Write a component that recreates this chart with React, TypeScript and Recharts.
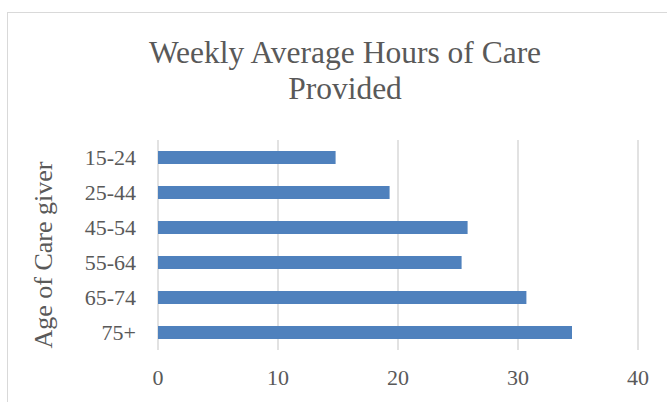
import React from 'react';
import { BarChart, Bar, XAxis, YAxis, CartesianGrid } from 'recharts';

const ageGroups = ['15-24', '25-44', '45-54', '55-64', '65-74', '75+'];
const weeklyHours = [14.8, 19.3, 25.8, 25.3, 30.7, 34.5];
const xTicks = [0, 10, 20, 30, 40];

const data = ageGroups.map((age, i) => ({ age, hours: weeklyHours[i] }));

const FONT = '"Liberation Serif", "Times New Roman", serif';
const TEXT = '#595959';

const AxisTitle = (props: any) => {
  const vb = props.viewBox || {};
  const cx = (vb.x || 0) + 43;
  const cy = (vb.y || 0) + (vb.height || 0) / 2 + 10;
  return (
    <text
      x={cx}
      y={cy}
      transform={`rotate(-90, ${cx}, ${cy})`}
      textAnchor="middle"
      dominantBaseline="central"
      fill={TEXT}
      fontSize={26}
      fontFamily={FONT}
    >
      Age of Care giver
    </text>
  );
};

export default function App() {
  return (
    <div style={{ position: 'absolute', left: 0, top: 0, width: 667, height: 402, overflow: 'hidden', background: '#fff', fontFamily: FONT }}>
      <div style={{ position: 'absolute', left: 7, top: 12, width: 700, height: 450, border: '1px solid #D9D9D9', boxSizing: 'border-box' }} />
      <div style={{ position: 'absolute', left: 0, top: 35, width: 690, textAlign: 'center', fontSize: 31.5, lineHeight: '36px', color: TEXT }}>
        Weekly Average Hours of Care<br />Provided
      </div>
      <div style={{ position: 'absolute', left: 0, top: 0 }}>
        <BarChart
          width={667}
          height={402}
          data={data}
          layout="vertical"
          margin={{ top: 140, right: 29, bottom: 0, left: 0 }}
          barSize={13}
        >
          <CartesianGrid horizontal={false} vertical={true} stroke="#D9D9D9" strokeWidth={1.5} />
          <XAxis
            type="number"
            domain={[0, 40]}
            ticks={xTicks}
            axisLine={false}
            tickLine={false}
            height={52}
            tickMargin={13}
            tick={{ fill: TEXT, fontSize: 22, fontFamily: FONT }}
            interval={0}
          />
          <YAxis
            type="category"
            dataKey="age"
            width={158}
            axisLine={false}
            tickLine={false}
            tickMargin={16}
            tick={{ fill: TEXT, fontSize: 22, fontFamily: FONT }}
            interval={0}
            label={<AxisTitle />}
          />
          <Bar dataKey="hours" fill="#4F81BD" isAnimationActive={false} />
        </BarChart>
      </div>
    </div>
  );
}
